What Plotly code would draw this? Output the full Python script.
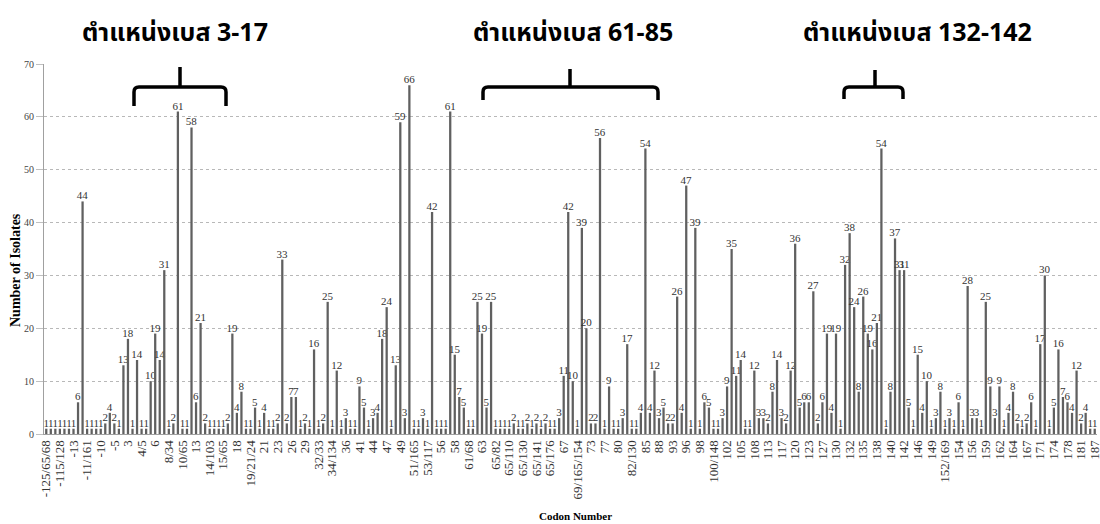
import plotly.graph_objects as go

# ---------------- data ----------------
tick_labels = [
    "-125/65/68", "-115/128", "-13", "-11/161", "-10", "-5", "3", "4/5", "6", "8/34",
    "10/65", "13", "14/103", "15/65", "18", "19/21/24", "21", "23", "26", "29",
    "32/33", "34/134", "36", "41", "44", "47", "49", "51/165", "53/117", "56",
    "58", "61/68", "63", "65/82", "65/110", "65/130", "65/141", "65/176", "67", "69/165/154",
    "73", "77", "80", "82/130", "85", "88", "93", "96", "98", "100/148",
    "102", "105", "108", "113", "117", "120", "123", "127", "130", "132",
    "135", "138", "140", "142", "146", "149", "152/169", "154", "156", "159",
    "162", "164", "167", "171", "174", "178", "181", "187",
]

isolates = [
    1, 1, 1, 1, 1, 1, 1, 6, 44, 1, 1, 1, 1, 2, 4, 2, 1, 13, 18, 1, 14, 1, 1, 10,
    19, 14, 31, 1, 2, 61, 1, 1, 58, 6, 21, 2, 1, 1, 1, 1, 2, 19, 4, 8, 1, 1, 5, 1,
    4, 1, 1, 2, 33, 2, 7, 7, 1, 2, 1, 16, 1, 2, 25, 1, 12, 1, 3, 1, 1, 9, 5, 1,
    3, 4, 18, 24, 1, 13, 59, 3, 66, 1, 1, 3, 1, 42, 1, 1, 1, 61, 15, 7, 5, 1, 1, 25,
    19, 5, 25, 1, 1, 1, 1, 2, 1, 1, 2, 1, 2, 1, 2, 1, 1, 3, 11, 42, 10, 1, 39, 20,
    2, 2, 56, 1, 9, 1, 1, 3, 17, 1, 1, 4, 54, 4, 12, 3, 5, 2, 2, 26, 4, 47, 1, 39,
    1, 6, 5, 1, 1, 3, 9, 35, 11, 14, 1, 1, 12, 3, 3, 2, 8, 14, 3, 2, 12, 36, 5, 6,
    6, 27, 2, 6, 19, 4, 19, 1, 32, 38, 24, 8, 26, 19, 16, 21, 54, 1, 8, 37, 31, 31, 5, 1,
    15, 4, 10, 1, 3, 8, 1, 3, 1, 6, 1, 28, 3, 3, 1, 25, 9, 3, 9, 1, 4, 8, 2, 1,
    2, 6, 1, 17, 30, 1, 5, 16, 7, 6, 4, 12, 2, 4, 1, 1,
]

label_step = 3
region_titles = ["ตำแหน่งเบส 3-17", "ตำแหน่งเบส 61-85", "ตำแหน่งเบส 132-142"]

# ---------------- layout helpers (pixel -> paper) ----------------
W, H = 1100, 524
ML, MR, MT, MB = 44, 3, 64, 90
PW, PH = W - ML - MR, H - MT - MB


def px(x):
    return (x - ML) / PW


def py(y):
    return (H - MB - y) / PH


def bracket(xl, xr, xm, yh, yb, yt, r=5):
    p = (
        f"M {px(xl)},{py(yb)} L {px(xl)},{py(yh + r)} "
        f"Q {px(xl)},{py(yh)} {px(xl + r)},{py(yh)} "
        f"L {px(xr - r)},{py(yh)} "
        f"Q {px(xr)},{py(yh)} {px(xr)},{py(yh + r)} "
        f"L {px(xr)},{py(yb)} "
        f"M {px(xm)},{py(yh)} L {px(xm)},{py(yt)}"
    )
    return dict(type="path", xref="paper", yref="paper", path=p,
                line=dict(color="black", width=3.5), layer="above")


serif = "Liberation Serif, Times New Roman, serif"
thai = "Noto Sans Thai, Tahoma, Noto Sans, sans-serif"


def title_note(text, xc, yc):
    return dict(text=f"<b>{text}</b>", xref="paper", yref="paper",
                x=px(xc), y=py(yc), xanchor="center", yanchor="middle",
                showarrow=False, font=dict(family=thai, size=25, color="black"))


fig = go.Figure(
    go.Bar(
        x=list(range(len(isolates))),
        y=isolates,
        text=isolates,
        textposition="outside",
        textangle=0,
        constraintext="none",
        cliponaxis=False,
        textfont=dict(family=serif, size=11, color="#333333"),
        marker=dict(color="#606060", line=dict(width=0)),
    )
)

fig.update_layout(
    width=W,
    height=H,
    margin=dict(l=ML, r=MR, t=MT, b=MB, autoexpand=False),
    plot_bgcolor="white",
    paper_bgcolor="white",
    bargap=0.5,
    showlegend=False,
    xaxis=dict(
        range=[-0.5, len(isolates) - 0.5],
        tickmode="array",
        tickvals=[label_step * k for k in range(len(tick_labels))],
        ticktext=tick_labels,
        tickangle=-90,
        tickfont=dict(family=serif, size=13, color="#333333"),
        ticklabeloverflow="allow",
        showgrid=False,
        showline=True,
        linecolor="#a0a0a0",
        ticks="",
        automargin=False,
    ),
    yaxis=dict(
        range=[0, 70],
        dtick=10,
        tickfont=dict(family=serif, size=10, color="#444444"),
        showgrid=True,
        gridcolor="#b8b8b8",
        griddash="dot",
        showline=True,
        linecolor="#a0a0a0",
        ticks="outside",
        ticklen=7,
        tickcolor="#c0c0c0",
        zeroline=False,
        automargin=False,
    ),
    annotations=[
        dict(text="<b>Codon Number</b>", xref="paper", yref="paper",
             x=px(575), y=py(516), xanchor="center", yanchor="middle",
             showarrow=False, font=dict(family=serif, size=11, color="black")),
        dict(text="<b>Number of Isolates</b>", xref="paper", yref="paper",
             x=px(15), y=py(270), xanchor="center", yanchor="middle",
             showarrow=False, textangle=-90,
             font=dict(family=serif, size=14, color="black")),
        title_note(region_titles[0], 175, 33),
        title_note(region_titles[1], 573, 33),
        title_note(region_titles[2], 917, 33),
    ],
    shapes=[
        bracket(134, 226, 180, 87, 106, 67),
        bracket(483, 658, 570, 87, 100, 69),
        bracket(844, 903, 875, 87, 99, 70),
    ],
)

fig.write_html(
    "out.html",
    config={"displayModeBar": False},
    post_script="document.body.style.margin='0';document.body.style.overflow='hidden';",
)
